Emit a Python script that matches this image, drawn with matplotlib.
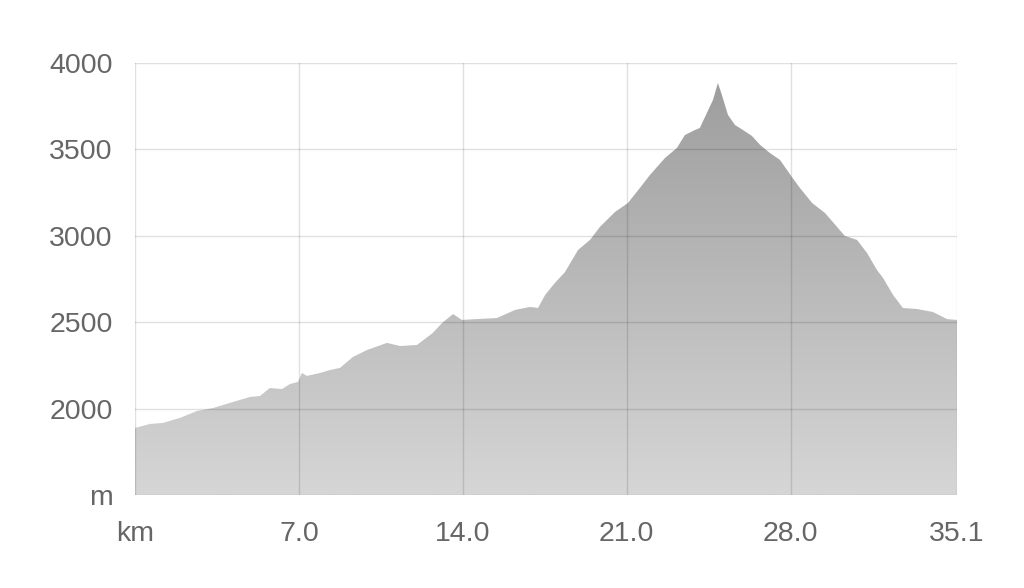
import numpy as np
import matplotlib
matplotlib.use("Agg")
import matplotlib.pyplot as plt

# elevation profile (km, metres)
km = [0.00, 0.64, 1.20, 1.92, 2.65, 3.33, 4.18, 4.91, 5.34, 5.76, 6.28, 6.62,
      6.96, 7.13, 7.34, 7.90, 8.33, 8.75, 9.31, 9.91, 10.76, 11.32, 12.04,
      12.72, 13.11, 13.58, 13.96, 14.60, 15.46, 16.23, 16.87, 17.21, 17.51,
      17.93, 18.36, 18.92, 19.43, 19.85, 20.50, 21.05, 21.56, 21.99, 22.63,
      23.14, 23.48, 23.91, 24.12, 24.42, 24.68, 24.89, 25.06, 25.32, 25.62,
      25.96, 26.34, 26.69, 27.11, 27.54, 28.05, 28.39, 28.91, 29.46, 30.31,
      30.83, 31.26, 31.68, 31.94, 32.37, 32.79, 33.39, 34.07, 34.67, 35.10]
elev = [1888, 1911, 1917, 1946, 1986, 2003, 2038, 2067, 2073, 2119, 2113, 2142,
        2154, 2206, 2189, 2206, 2223, 2235, 2299, 2339, 2380, 2362, 2368,
        2438, 2495, 2547, 2513, 2518, 2524, 2571, 2588, 2582, 2657,
        2727, 2790, 2918, 2976, 3051, 3138, 3190, 3277, 3352, 3450,
        3508, 3583, 3612, 3624, 3711, 3786, 3884, 3815, 3699, 3641,
        3612, 3578, 3526, 3479, 3439, 3340, 3277, 3190, 3132, 2999,
        2976, 2900, 2802, 2756, 2657, 2582, 2576, 2559, 2518, 2513]

x_ticks = [0, 7.0, 14.0, 21.0, 28.0, 35.1]
x_labels = ["km", "7.0", "14.0", "21.0", "28.0", "35.1"]
y_ticks = [1500, 2000, 2500, 3000, 3500, 4000]
y_labels = ["m", "2000", "2500", "3000", "3500", "4000"]

plt.rcParams['font.family'] = ['Liberation Sans', 'DejaVu Sans']

fig = plt.figure(figsize=(10.24, 5.88), dpi=100)
ax = fig.add_axes([0.1318, 0.1582, 0.9346 - 0.1318, 0.8929 - 0.1582])

ymin, ymax = 1500, 4000
poly = ax.fill_between(km, elev, ymin, facecolor='none', edgecolor='none')

# vertical gray gradient clipped to the profile
grad = np.linspace(0, 1, 256).reshape(-1, 1)
cmap = matplotlib.colors.LinearSegmentedColormap.from_list('g', ['#d6d6d6', '#9e9e9e'])
top = max(elev)
img = ax.imshow(grad, extent=[km[0], km[-1], ymin, top], origin='lower',
                aspect='auto', cmap=cmap, zorder=1)
img.set_clip_path(poly.get_paths()[0], transform=ax.transData)

ax.set_xlim(km[0], km[-1])
ax.set_ylim(ymin, ymax)
ax.set_xticks(x_ticks)
ax.set_xticklabels(x_labels)
ax.set_yticks(y_ticks)
ax.set_yticklabels(y_labels)

gc = (0, 0, 0, 0.12)
for t in x_ticks:
    ax.axvline(t, color=gc, lw=1, zorder=3)
for t in y_ticks:
    ax.axhline(t, color=gc, lw=1, zorder=3)
for s in ax.spines.values():
    s.set_visible(False)

ax.tick_params(length=0, labelsize=20.5, labelcolor='#666666')
ax.tick_params(axis='y', pad=16)
ax.tick_params(axis='x', pad=19)

fig.savefig('out.png', dpi=100)
